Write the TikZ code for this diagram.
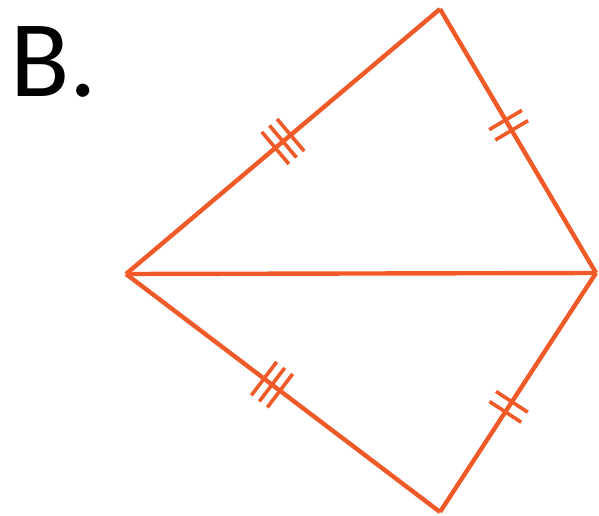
\documentclass[tikz,border=0pt]{standalone}
\usepackage{fontspec}
\setmainfont{Carlito}
\usepackage{tikz}
\usetikzlibrary{decorations.markings}
\definecolor{EDGE}{HTML}{F05A28}

\begin{document}
\begin{tikzpicture}[
    x=1pt, y=-1pt,
    edge/.style={draw=EDGE, line width=4.4pt, line join=miter},
    tickbar/.style={draw=EDGE, line width=3.6pt},
    tickthree/.style={postaction={decorate, decoration={markings,
        mark=at position #1 with {\foreach \d in {-10,0,10} {\draw[tickbar] (\d,-21) -- (\d,21);}}}}},
    ticktwo/.style={postaction={decorate, decoration={markings,
        mark=at position #1 with {\foreach \d in {-6,6} {\draw[tickbar] (\d,-19) -- (\d,19);}}}}},
    lbl/.style={font=\fontsize{109}{120}\selectfont, inner sep=0pt, anchor=base west},
  ]
  \useasboundingbox (0,0) rectangle (599,516);

  % ===== label =====
  \node[lbl] (name) at (10,97) {B.};

  % ===== vertices =====
  \coordinate (L) at (126,274);
  \coordinate (T) at (440,9);
  \coordinate (R) at (596,273);
  \coordinate (D) at (440,512);

  % ===== sides =====
  \draw[edge, tickthree=0.5] (L) -- (T);
  \draw[edge, ticktwo=0.44] (T) -- (R);
  \draw[edge, tickthree=0.465] (L) -- (D);
  \draw[edge, ticktwo=0.56] (R) -- (D);
  \draw[edge] (L) -- (R);

\end{tikzpicture}
\end{document}
